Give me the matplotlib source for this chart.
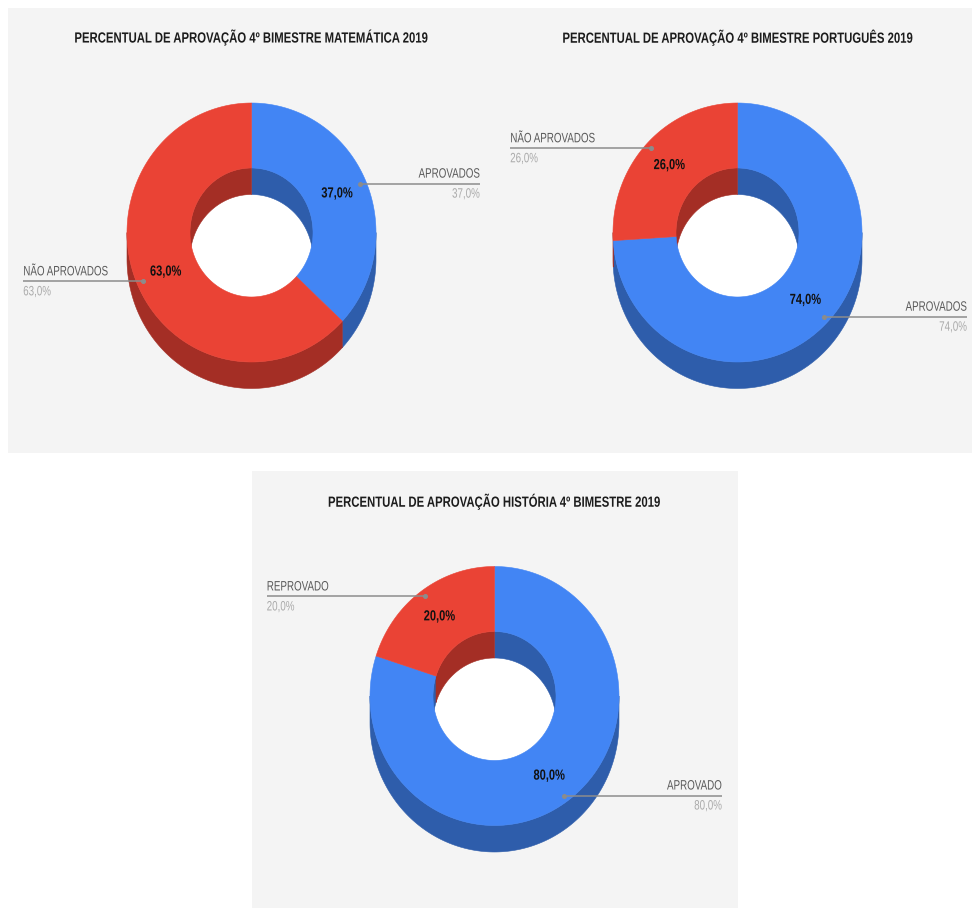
import numpy as np
import matplotlib
matplotlib.use("Agg")
import matplotlib.pyplot as plt
from matplotlib.patches import Rectangle
from matplotlib.patheffects import AbstractPathEffect
from matplotlib.transforms import Affine2D

# Approval shares per subject, 4th bimester 2019
titulo_mat = "PERCENTUAL DE APROVAÇÃO 4º BIMESTRE MATEMÁTICA 2019"
rotulos_mat = ["APROVADOS", "NÃO APROVADOS"]
valores_mat = [37.0, 63.0]

titulo_por = "PERCENTUAL DE APROVAÇÃO 4º BIMESTRE PORTUGUÊS 2019"
rotulos_por = ["APROVADOS", "NÃO APROVADOS"]
valores_por = [74.0, 26.0]

titulo_his = "PERCENTUAL DE APROVAÇÃO HISTÓRIA 4º BIMESTRE 2019"
rotulos_his = ["APROVADO", "REPROVADO"]
valores_his = [80.0, 20.0]

FACE = ["#4285f4", "#ea4335"]
SIDE = ["#2e5dab", "#a42e25"]
PANEL = "#f4f4f4"
FONT = ["Liberation Sans", "DejaVu Sans"]

RX, RY = 124.5, 129.5
IRX, IRY = 61.5, 64.5
DEPTH = 26.5


class Condensed(AbstractPathEffect):
    """Narrow the glyphs horizontally, keeping the text's alignment anchor fixed."""

    def __init__(self, factor, ha):
        super().__init__()
        self.factor = factor
        self.ha = ha

    def draw_path(self, renderer, gc, tpath, affine, rgbFace=None):
        x0, _, x1, _ = tpath.get_extents().extents
        anchor = {"left": x0, "center": (x0 + x1) / 2, "right": x1}[self.ha]
        squeeze = Affine2D().translate(-anchor, 0).scale(self.factor, 1).translate(anchor, 0)
        renderer.draw_path(gc, tpath, squeeze + affine, rgbFace)


fig = plt.figure(figsize=(9.72, 9.08), dpi=100, facecolor="white")
ax = fig.add_axes([0, 0, 1, 1])
ax.set_xlim(0, 972)
ax.set_ylim(908, 0)
ax.axis("off")


def arc(cx, cy, rx, ry, t0, t1):
    # Angles run clockwise from twelve o'clock, in degrees
    t = np.radians(np.linspace(t0, t1, 181))
    return cx + rx * np.sin(t), cy - ry * np.cos(t)


def wall(cx, cy, rx, ry, t0, t1, color, zorder):
    if t1 <= t0:
        return
    x, y = arc(cx, cy, rx, ry, t0, t1)
    ax.fill(np.r_[x, x[::-1]], np.r_[y, y[::-1] + DEPTH], color=color, lw=0.4, zorder=zorder)


def label(x, y, s, ha, va, size, color, factor, weight="normal"):
    ax.text(x, y, s, ha=ha, va=va, fontsize=size, fontweight=weight, family=FONT, color=color,
            zorder=5, path_effects=[Condensed(factor, ha)])


def donut(cx, cy, values, labels, title, title_y, lines):
    ax.fill(*arc(cx, cy, IRX, IRY, 0, 360), color="white", lw=0, zorder=1)
    edges = np.r_[0, np.cumsum(values)] * 3.6
    for i, (t0, t1) in enumerate(zip(edges[:-1], edges[1:])):
        # Outer wall shows on the lower half, inner wall on the upper half
        wall(cx, cy, RX, RY, max(t0, 90), min(t1, 270), SIDE[i], 2)
        wall(cx, cy, IRX, IRY, t0, min(t1, 90), SIDE[i], 2)
        wall(cx, cy, IRX, IRY, max(t0, 270), t1, SIDE[i], 2)
    for i, (t0, t1) in enumerate(zip(edges[:-1], edges[1:])):
        xo, yo = arc(cx, cy, RX, RY, t0, t1)
        xi, yi = arc(cx, cy, IRX, IRY, t1, t0)
        ax.fill(np.r_[xo, xi], np.r_[yo, yi], color=FACE[i], lw=0.4, zorder=3)
        mid = np.radians((t0 + t1) / 2)
        text = f"{values[i]:.1f}%".replace(".", ",")
        label(cx + 0.75 * RX * np.sin(mid), cy - 0.76 * RY * np.cos(mid), text,
              "center", "center", 10.5, "#111111", 0.76, "bold")
        # Leader line from the ring out to the category label
        px, py = cx + 0.95 * RX * np.sin(mid), cy - 0.95 * RY * np.cos(mid)
        end = lines[i]
        ax.plot([px, end], [py, py], color="#8c8c8c", lw=1.1, zorder=4, solid_capstyle="butt")
        ax.plot([px], [py], "o", ms=2.6, color="#8c8c8c", zorder=4)
        ha = "right" if end > px else "left"
        label(end, py - 3, labels[i], ha, "bottom", 9.8, "#5a5a5a", 0.72)
        label(end, py + 3, text, ha, "top", 9.8, "#aaaaaa", 0.72)
    label(cx + title[1], title_y, title[0], "center", "center", 10.6, "#1c1c1c", 0.77, "bold")


ax.add_patch(Rectangle((8, 8), 964, 445, fc=PANEL, ec="none", zorder=0))
ax.add_patch(Rectangle((251.5, 471), 486.5, 437, fc=PANEL, ec="none", zorder=0))

donut(251.5, 232.5, valores_mat, rotulos_mat, (titulo_mat, 0), 37.5, [480, 23])
donut(737.5, 232.5, valores_por, rotulos_por, (titulo_por, 0.5), 37.5, [967, 510])
donut(494.5, 696, valores_his, rotulos_his, (titulo_his, 0), 501.5, [722, 266.5])

fig.savefig("out.png", dpi=100)
